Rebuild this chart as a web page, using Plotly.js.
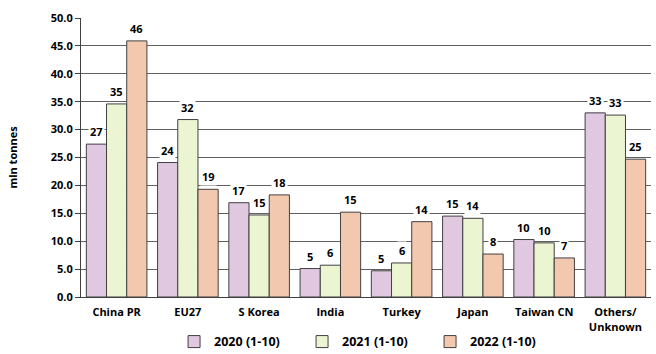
<!DOCTYPE html>
<html>
<head>
<meta charset="utf-8">
<script src="https://cdn.plot.ly/plotly-3.0.1.min.js"></script>
<style>html,body{margin:0;padding:0;background:#fff}#chart{width:656px;height:354px}</style>
</head>
<body>
<div id="chart"></div>
<script>
const categories = ["China PR", "EU27", "S Korea", "India", "Turkey", "Japan", "Taiwan CN", "Others/<br>Unknown"];
const seriesNames = ["2020 (1-10)", "2021 (1-10)", "2022 (1-10)"];
const v2020 = [27.4, 24.1, 16.9, 5.1, 4.7, 14.5, 10.3, 33.0];
const v2021 = [34.6, 31.8, 14.7, 5.7, 6.1, 14.1, 9.7, 32.6];
const v2022 = [45.9, 19.3, 18.3, 15.2, 13.5, 7.7, 7.0, 24.7];
const colors = ["#E0C8E0", "#EBF5D2", "#F2C8AE"];

const allSeries = [v2020, v2021, v2022];
const FONT = "Open Sans, Liberation Sans, sans-serif";
const bargap = 0.15;
const barW = (1 - bargap) / 3;

const traces = allSeries.map((vals, k) => ({
  type: "bar",
  name: seriesNames[k],
  x: categories,
  y: vals,
  marker: {color: colors[k], line: {color: "#404040", width: 1}},
  hoverinfo: "skip"
}));

const annotations = [];
allSeries.forEach((vals, k) => {
  vals.forEach((v, i) => {
    annotations.push({
      x: i + (k - 1) * barW,
      y: v,
      xref: "x", yref: "y",
      text: "<b>" + Math.round(v) + "</b>",
      showarrow: false,
      yanchor: "bottom",
      yshift: 3,
      bgcolor: "#ffffff",
      borderpad: 1,
      font: {family: FONT, size: 11, color: "#000"}
    });
  });
});

const layout = {
  width: 656, height: 354,
  margin: {l: 81, r: 5, t: 18, b: 57},
  paper_bgcolor: "#fff", plot_bgcolor: "#fff",
  barmode: "group", bargap: bargap, bargroupgap: 0,
  showlegend: true,
  legend: {orientation: "h", xref: "container", yref: "container",
           x: 0.558, xanchor: "center", y: 0.034, yanchor: "middle",
           font: {family: FONT, size: 12.5, color: "#000", weight: "bold"},
           entrywidth: 83, entrywidthmode: "pixels", itemwidth: 20, tracegroupgap: 0},
  xaxis: {
    type: "category",
    showline: true, linecolor: "#404040", linewidth: 1,
    showgrid: false,
    ticks: "",
    ticklabelstandoff: 5,
    automargin: false,
    tickfont: {family: FONT, size: 11, color: "#000", weight: "bold"},
    fixedrange: true
  },
  yaxis: {
    range: [0, 50], dtick: 5, tickformat: ".1f",
    showline: true, linecolor: "#404040", linewidth: 1,
    showgrid: true, gridcolor: "#606060", gridwidth: 1,
    ticks: "outside", ticklen: 5, tickcolor: "#404040",
    automargin: false,
    tickfont: {family: FONT, size: 11, color: "#000", weight: "bold"},
    title: {text: "<b>mln tonnes</b>", font: {family: FONT, size: 11, color: "#000"}, standoff: 30},
    zeroline: false,
    fixedrange: true
  },
  annotations: annotations
};

Plotly.newPlot("chart", traces, layout, {displayModeBar: false, staticPlot: true});
</script>
</body>
</html>
